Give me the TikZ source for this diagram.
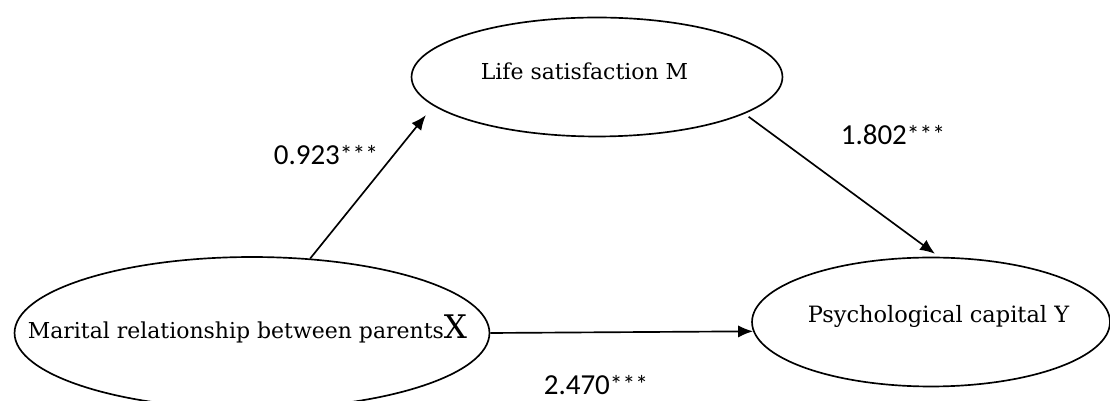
\documentclass[tikz,border=0pt]{standalone}
\usepackage{fontspec}
\setmainfont{DejaVu Serif}
\newfontfamily\coeffont{Carlito}
\usetikzlibrary{shapes.geometric,arrows.meta}
\newcommand{\sigstars}{\raisebox{1pt}{\fontsize{14.5}{15}\selectfont ***}}

\begin{document}
\begin{tikzpicture}[
  x=0.02cm, y=-0.02cm, line width=0.95pt,
  oval/.style={ellipse,draw,inner sep=0pt},
  vname/.style={anchor=base west,inner sep=0pt,font=\fontsize{12.5}{14}\selectfont},
  coef/.style={anchor=base west,inner sep=0pt,font=\coeffont\fontsize{16.5}{18}\selectfont},
  arr/.style={-{Latex[length=8.5pt,width=7pt]}}
]
  \useasboundingbox (0,0) rectangle (1110,401);
  % the three variables
  \node[oval,minimum width=7.42cm,minimum height=2.38cm] (m) at (597,77) {};
  \node[oval,minimum width=9.5cm,minimum height=3.04cm] (x) at (252,333) {};
  \node[oval,minimum width=7.16cm,minimum height=2.58cm] (y) at (931,322) {};
  \node[vname] (mt) at (480,80) {Life satisfaction M};
  \node[vname] (xt) at (27,339) {Marital relationship between parents\fontsize{18.5}{20}\selectfont X};
  \node[vname,font=\fontsize{12.8}{14}\selectfont] (yt) at (807,323) {Psychological capital Y};
  % paths
  \draw[arr,shorten >=0.24cm] (x.52) -- (m.190);
  \draw[arr,shorten <=0.1cm,shorten >=0.1cm] (m.346) -- (y.83);
  \draw[arr] (x.east) -- (y.183);
  % coefficients
  \node[coef] (c1) at (273,165) {0.923\sigstars};
  \node[coef] (c2) at (840,145) {1.802\sigstars};
  \node[coef] (c3) at (543,395) {2.470\sigstars};
\end{tikzpicture}
\end{document}
